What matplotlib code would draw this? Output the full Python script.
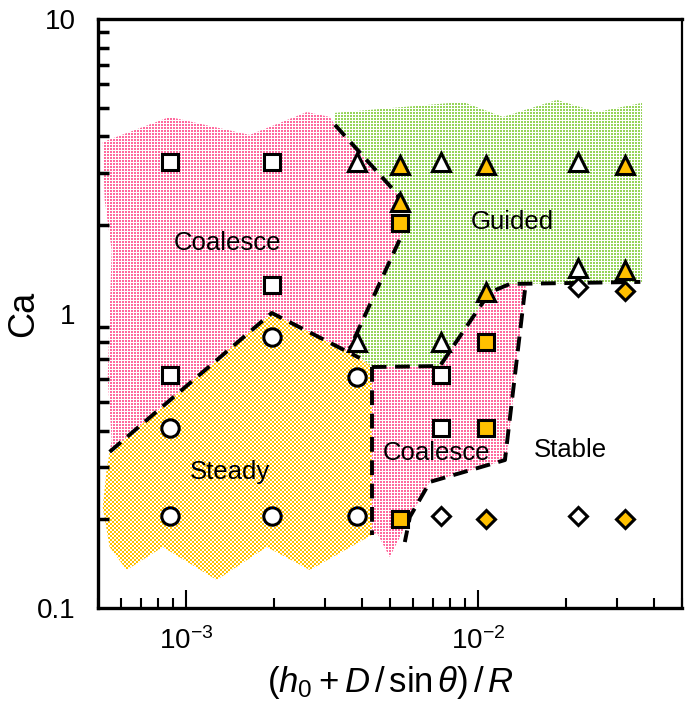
import numpy as np
import matplotlib
matplotlib.use('Agg')
import matplotlib.pyplot as plt
from matplotlib.patches import Polygon
from matplotlib.ticker import NullFormatter, LogLocator

plt.rcParams['font.family'] = ['Liberation Sans', 'DejaVu Sans']
plt.rcParams['mathtext.fontset'] = 'custom'
plt.rcParams['mathtext.rm'] = 'Liberation Sans'
plt.rcParams['mathtext.it'] = 'Liberation Sans:italic'

# ---- measured points ----
open_sq_x = [8.8e-4, 1.97e-3, 1.97e-3, 8.8e-4, 7.47e-3, 7.47e-3]
open_sq_y = [3.27, 3.27, 1.25, 0.62, 0.62, 0.41]
fill_sq_x = [5.4e-3, 1.07e-2, 1.07e-2, 5.4e-3]
fill_sq_y = [2.03, 0.80, 0.41, 0.20]
open_ci_x = [1.97e-3, 8.8e-4, 3.85e-3, 8.8e-4, 1.97e-3, 3.85e-3]
open_ci_y = [0.83, 0.41, 0.61, 0.205, 0.205, 0.205]
open_tr_x = [3.85e-3, 7.47e-3, 2.2e-2, 2.2e-2, 3.85e-3, 7.47e-3]
open_tr_y = [3.27, 3.27, 3.27, 1.43, 0.80, 0.80]
fill_tr_x = [5.4e-3, 1.07e-2, 3.19e-2, 5.4e-3, 3.19e-2, 1.07e-2]
fill_tr_y = [3.19, 3.19, 3.19, 2.39, 1.40, 1.18]
open_di_x = [2.2e-2, 7.47e-3, 2.2e-2]
open_di_y = [1.23, 0.205, 0.205]
fill_di_x = [3.19e-2, 1.07e-2, 3.19e-2]
fill_di_y = [1.19, 0.20, 0.20]

# ---- regime regions ----
coal_hi_x = [5.19e-4, 8.8e-4, 1.654e-3, 2.594e-3, 3.111e-3, 3.236e-3, 5.32e-3, 5.49e-3,
             3.64e-3, 3.94e-3, 1.968e-3, 5.48e-4, 5.57e-4, 5.40e-4, 5.48e-4, 5.57e-4, 5.27e-4]
coal_hi_y = [3.82, 4.65, 4.04, 4.83, 4.65, 4.37, 2.53, 1.85,
             0.76, 0.706, 1.004, 0.339, 0.372, 0.6, 1.0, 1.64, 2.43]
guided_x = [3.236e-3, 8.884e-3, 1.218e-2, 1.865e-2, 2.557e-2, 3.648e-2, 3.648e-2, 1.287e-2,
            1.099e-2, 1.0e-2, 7.41e-3, 4.33e-3, 3.64e-3, 5.49e-3, 5.32e-3, 3.236e-3]
guided_y = [4.80, 5.23, 4.65, 5.31, 4.83, 5.19, 1.27, 1.26,
            1.18, 1.03, 0.663, 0.658, 0.76, 1.85, 2.53, 4.37]
coal_lo_x = [4.33e-3, 7.41e-3, 1.0e-2, 1.099e-2, 1.287e-2, 1.46e-2, 1.25e-2, 6.85e-3,
             5.85e-3, 5.5e-3, 4.99e-3, 4.51e-3, 4.33e-3]
coal_lo_y = [0.658, 0.663, 1.03, 1.18, 1.26, 1.26, 0.318, 0.268,
             0.204, 0.18, 0.149, 0.18, 0.177]
steady_x = [5.48e-4, 1.968e-3, 3.94e-3, 4.33e-3, 4.33e-3, 2.657e-3, 1.892e-3, 1.275e-3,
            8.33e-4, 6.27e-4, 5.48e-4, 5.19e-4, 5.35e-4]
steady_y = [0.339, 1.004, 0.706, 0.658, 0.177, 0.1346, 0.1611, 0.1245,
            0.1611, 0.1346, 0.1611, 0.220, 0.294]

# ---- dashed boundaries ----
b1_x = [3.24e-3, 5.32e-3, 5.49e-3, 3.64e-3]
b1_y = [4.37, 2.53, 1.85, 0.76]
b2_x = [5.48e-4, 1.968e-3, 3.94e-3]
b2_y = [0.339, 1.004, 0.706]
b3_x = [4.33e-3, 4.33e-3]
b3_y = [0.658, 0.177]
b4_x = [4.33e-3, 7.41e-3, 1.0e-2, 1.099e-2, 1.287e-2, 3.6e-2]
b4_y = [0.658, 0.663, 1.03, 1.18, 1.26, 1.28]
b5_x = [1.449e-2, 1.238e-2, 6.85e-3, 5.85e-3, 5.62e-3]
b5_y = [1.20, 0.318, 0.268, 0.204, 0.1675]

labels = [('Coalesce', 1.39e-3, 1.74), ('Guided', 1.308e-2, 2.05), ('Steady', 1.413e-3, 0.29),
          ('Coalesce', 7.24e-3, 0.336), ('Stable', 2.067e-2, 0.344)]

PINK = '#FF6A9E'
GREEN = '#96D45A'
ORANGE = '#FFC000'

fig = plt.figure(figsize=(6.85, 7.15), dpi=100)
pos = [98 / 685, 107 / 715, 584 / 685, 589 / 715]
ax = fig.add_axes(pos)
ax.set_xscale('log')
ax.set_yscale('log')
ax.set_xlim(5e-4, 5e-2)
ax.set_ylim(0.1, 10)

W, H = 584, 589
rr, cc = np.mgrid[0:H, 0:W]


def texture(color, mask):
    rgba = np.ones((H, W, 4))
    rgb = matplotlib.colors.to_rgb(color)
    for k in range(3):
        rgba[..., k] = np.where(mask, rgb[k], 1.0)
    return rgba


dots = (rr % 3 != 2) & (cc % 3 != 2)
checker = (rr // 2 + cc // 2) % 2 == 0

for xs, ys, col, mask in [(coal_hi_x, coal_hi_y, PINK, dots),
                          (guided_x, guided_y, GREEN, dots),
                          (coal_lo_x, coal_lo_y, PINK, dots),
                          (steady_x, steady_y, ORANGE, checker)]:
    patch = Polygon(np.column_stack([xs, ys]), closed=True, facecolor='none',
                    edgecolor='none')
    ax.add_patch(patch)
    im = ax.imshow(texture(col, mask), extent=[0, 1, 0, 1], transform=ax.transAxes,
                   interpolation='nearest', aspect='auto', zorder=1)
    im.set_clip_path(patch)

for xs, ys in [(b1_x, b1_y), (b2_x, b2_y), (b3_x, b3_y), (b4_x, b4_y), (b5_x, b5_y)]:
    ax.plot(xs, ys, color='black', lw=2.8, dashes=(3.8, 2.2), zorder=2)

mk = dict(ls='none', mec='black', mew=2.2, zorder=3)
ax.plot(open_sq_x, open_sq_y, marker='s', ms=12, mfc='white', **mk)
ax.plot(fill_sq_x, fill_sq_y, marker='s', ms=12, mfc=ORANGE, **mk)
ax.plot(open_ci_x, open_ci_y, marker='o', ms=12.5, mfc='white', **mk)
ax.plot(open_tr_x, open_tr_y, marker='^', ms=12.5, mfc='white', **mk)
ax.plot(fill_tr_x, fill_tr_y, marker='^', ms=12.5, mfc=ORANGE, **mk)
ax.plot(open_di_x, open_di_y, marker='D', ms=9, mfc='white', **mk)
ax.plot(fill_di_x, fill_di_y, marker='D', ms=9, mfc=ORANGE, **mk)

for txt, x, y in labels:
    ax.text(x, y, txt, fontsize=18.5, ha='center', va='center', zorder=4)

ax.set_xlim(5e-4, 5e-2)
ax.set_ylim(0.1, 10)
ax.set_xticks([1e-3, 1e-2], ['$10^{-3}$', '$10^{-2}$'])
ax.set_yticks([0.1, 1, 10], ['0.1', '1', '10'])
ax.xaxis.set_minor_locator(LogLocator(subs=np.arange(2, 10)))
ax.yaxis.set_minor_locator(LogLocator(subs=np.arange(2, 10)))
ax.xaxis.set_minor_formatter(NullFormatter())
ax.yaxis.set_minor_formatter(NullFormatter())

ax.tick_params(axis='x', which='major', direction='in', length=13, width=1.5,
               labelsize=20, pad=14)
ax.tick_params(axis='x', which='minor', direction='in', length=7.5, width=1.5)
ax.tick_params(axis='y', which='major', length=0, labelsize=20, pad=16)
ax.tick_params(axis='y', which='minor', direction='in', length=8, width=2.5)

for s in ['left', 'bottom', 'top']:
    ax.spines[s].set_linewidth(2.4)
ax.spines['right'].set_linewidth(1.6)

ax.set_xlabel(r'$(h_0 + D\,/\,\sin\theta)\,/\,R$', fontsize=25, labelpad=6)
ax.set_ylabel('Ca', fontsize=26, labelpad=-3)

fig.savefig('out.png', dpi=100)
